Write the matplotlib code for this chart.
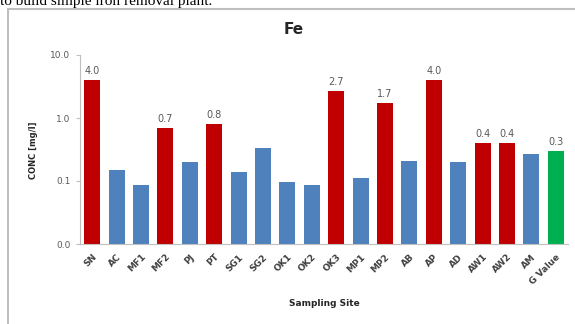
import matplotlib
matplotlib.use("Agg")
import matplotlib.pyplot as plt
from matplotlib.patches import Rectangle
from matplotlib.ticker import FixedLocator, NullLocator

# Iron concentration per sampling site
sites = ["SN", "AC", "MF1", "MF2", "PJ", "PT", "SG1", "SG2", "OK1", "OK2",
         "OK3", "MP1", "MP2", "AB", "AP", "AD", "AW1", "AW2", "AM", "G Value"]
conc = [4.0, 0.15, 0.087, 0.7, 0.2, 0.8, 0.14, 0.33, 0.096, 0.087,
        2.7, 0.11, 1.7, 0.21, 4.0, 0.2, 0.4, 0.4, 0.27, 0.3]
# "high" = above guideline, "ok" = below, "guide" = guideline value
status = ["high", "ok", "ok", "high", "ok", "high", "ok", "ok", "ok", "ok",
          "high", "ok", "high", "ok", "high", "ok", "high", "high", "ok", "guide"]
ytick_vals = [0.01, 0.1, 1.0, 10.0]
ytick_labels = ["0.0", "0.1", "1.0", "10.0"]

palette = {"high": "#C00000", "ok": "#4F81BD", "guide": "#00B050"}
colors = [palette[s] for s in status]

fig = plt.figure(figsize=(5.75, 3.24), dpi=100)

# surrounding document text and chart frame
fig.text(0.0, 1 - 5 / 324, "to build simple iron removal plant.",
         family="Liberation Serif", fontsize=11, color="black",
         ha="left", va="baseline")
fig.patches.append(Rectangle((8 / 575, -0.1), 1.2, 1 - 9 / 324 + 0.1,
                             transform=fig.transFigure, fill=False,
                             edgecolor="#BFBFBF", linewidth=1.5))

ax = fig.add_axes([80 / 575, 1 - 244 / 324, 488 / 575, 189 / 324])
x = list(range(len(sites)))
ax.bar(x, conc, width=0.66, color=colors, bottom=0)
ax.set_yscale("log")
ax.set_ylim(0.01, 10)
ax.set_xlim(-0.5, len(sites) - 0.5)

ax.yaxis.set_major_locator(FixedLocator(ytick_vals))
ax.yaxis.set_minor_locator(NullLocator())
ax.set_yticklabels(ytick_labels, fontsize=6.5, color="#595959")
ax.set_xticks(x)
ax.set_xticklabels(sites, rotation=45, ha="right", rotation_mode="anchor",
                   fontsize=6.5, color="#404040", fontweight="bold")
ax.tick_params(axis="x", length=0, pad=6)
ax.tick_params(axis="y", length=3, width=0.8, color="#BFBFBF", pad=4)

for side in ("top", "right"):
    ax.spines[side].set_visible(False)
for side in ("left", "bottom"):
    ax.spines[side].set_color("#BFBFBF")
    ax.spines[side].set_linewidth(0.8)

# value labels above bars that are at or over the guideline
for xi, v, s in zip(x, conc, status):
    if s != "ok":
        ax.annotate(f"{v:.1f}", (xi, v), xytext=(0, 3),
                    textcoords="offset points", ha="center", va="bottom",
                    fontsize=7, color="#595959")

fig.text(294 / 575, 1 - 30 / 324, "Fe", ha="center", va="center",
         fontsize=11, fontweight="bold", color="#262626")
fig.text(33 / 575, 1 - 150 / 324, "CONC [mg/l]", rotation=90,
         ha="center", va="center", fontsize=6, fontweight="bold",
         color="#262626")
fig.text(324 / 575, 1 - 304 / 324, "Sampling Site", ha="center",
         va="center", fontsize=6.5, fontweight="bold", color="#262626")

fig.savefig("out.png", dpi=100)
